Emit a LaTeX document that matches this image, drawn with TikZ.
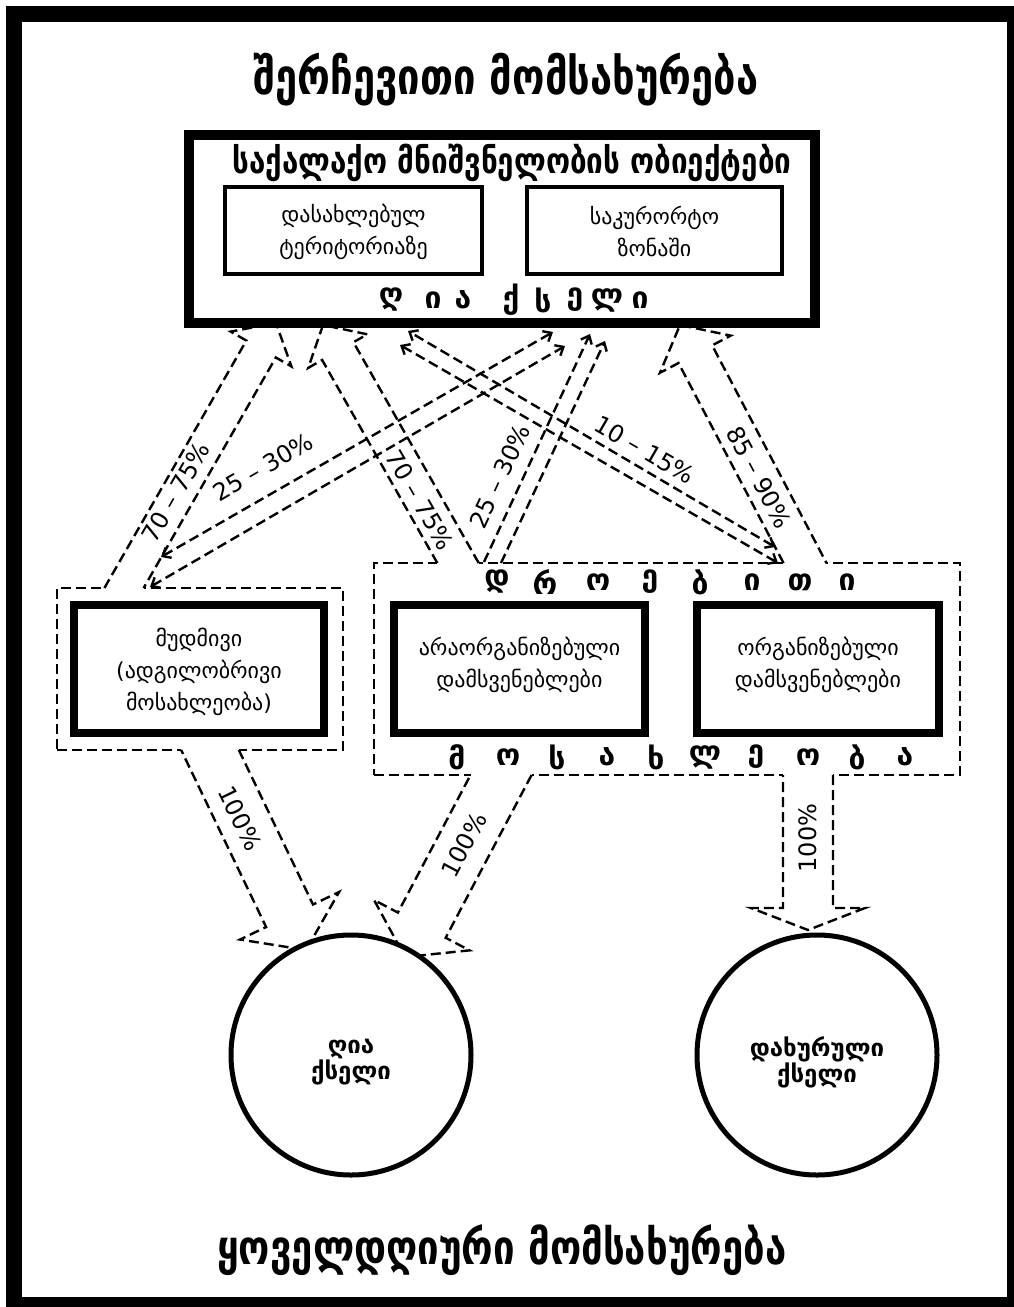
\documentclass[tikz,border=0pt]{standalone}
\usepackage{fontspec}
\setmainfont{DejaVu Sans}
\usetikzlibrary{calc,arrows.meta}
\newcommand{\wideArrow}[6]{%
 \coordinate (#1h) at ($(#3)!#6!(#2)$);
 \coordinate (#1a) at ($(#2)!#4!90:(#3)$);
 \coordinate (#1b) at ($(#2)!#4!-90:(#3)$);
 \coordinate (#1ha) at ($(#1h)!#4!90:(#3)$);
 \coordinate (#1hb) at ($(#1h)!#4!-90:(#3)$);
 \coordinate (#1hA) at ($(#1h)!#5!90:(#3)$);
 \coordinate (#1hB) at ($(#1h)!#5!-90:(#3)$);
 \coordinate (#1x) at ($(#2)+(20,0)$);
 \coordinate (#1A) at (intersection of #1a--#1ha and #2--#1x);
 \coordinate (#1B) at (intersection of #1b--#1hb and #2--#1x);
 \draw[white, line width=5pt] (#1A) -- (#1B);
 \draw[dashline] (#1A) -- (#1ha) -- (#1hA) -- (#3) -- (#1hB) -- (#1hb) -- (#1B);
}
\begin{document}
\begin{tikzpicture}[x=1pt,y=-1pt,
  dashline/.style={line width=2.4pt, dash pattern=on 10pt off 5pt},
  dashbox/.style={draw, dashline, inner sep=0pt},
  thickbox/.style={draw, line width=8pt, fill=white, inner sep=0pt},
  midbox/.style={draw, line width=4pt, fill=white, inner sep=0pt},
  bodytext/.style={font=\fontsize{22}{32}\selectfont, align=center, inner sep=0pt},
  pct/.style={font=\fontsize{24}{26}\selectfont, inner sep=0pt},
  spaced/.style={font=\bfseries\fontsize{30}{30}\selectfont, inner sep=0pt},
  circtext/.style={font=\bfseries\fontsize{24}{24}\selectfont, align=center, inner sep=0pt},
  barbs/.style={dashline, {Straight Barb[length=7pt,width=12pt]}-{Straight Barb[length=7pt,width=12pt]}},
  topbarb/.style={dashline, -{Straight Barb[length=7pt,width=12pt]}}
]
\useasboundingbox (0,0) rectangle (1014,1307);
\fill[white] (0,0) rectangle (1014,1307);
\draw[line width=16pt] (14,14) rectangle (1015,1305);

% group boxes (dashed)
\node[dashbox, minimum width=286pt, minimum height=162pt] (ldash) at (200,669) {};
\node[dashbox, minimum width=586pt, minimum height=212pt] (rdash) at (667,669) {};

% wide arrows
\coordinate (sA1) at (124,588); \coordinate (eA1) at (276,323);
\coordinate (sA2) at (458,563); \coordinate (eA2) at (323,325);
\coordinate (sA3) at (805,563); \coordinate (eA3) at (680,325);
\coordinate (sB1) at (210,750); \coordinate (eB1) at (306,950);
\coordinate (sB2) at (501,775); \coordinate (eB2) at (405,957);
\coordinate (sB3) at (808,775); \coordinate (eB3) at (808,930);
\wideArrow{A1}{sA1}{eA1}{17pt}{35pt}{30pt}
\wideArrow{A2}{sA2}{eA2}{18pt}{34pt}{30pt}
\wideArrow{A3}{sA3}{eA3}{19pt}{40pt}{33pt}
\wideArrow{B1}{sB1}{eB1}{26pt}{55pt}{38pt}
\wideArrow{B2}{sB2}{eB2}{27pt}{54pt}{36pt}
\wideArrow{B3}{sB3}{eB3}{25pt}{57pt}{22pt}

% narrow double-line arrows
\coordinate (n1a) at (161,557); \coordinate (n1b) at (553,332);
\coordinate (n1c) at (150,587); \coordinate (n1d) at (565,346);
\draw[barbs] (n1a) -- (n1b);
\draw[barbs] (n1c) -- (n1d);
\coordinate (n2a) at (484,562); \coordinate (n2b) at (590,334);
\coordinate (n2c) at (501,563); \coordinate (n2d) at (605,341);
\draw[topbarb] (n2a) -- (n2b);
\draw[topbarb] (n2c) -- (n2d);
\coordinate (n3a) at (775,547); \coordinate (n3b) at (408,331);
\coordinate (n3c) at (778,563); \coordinate (n3d) at (400,345);
\draw[barbs] (n3a) -- (n3b);
\draw[barbs] (n3c) -- (n3d);

% top box
\node[draw, line width=10pt, fill=white, inner sep=0pt, minimum width=626pt, minimum height=188pt] (topbox) at (502,229) {};
\node[midbox, minimum width=257pt, minimum height=87pt] (settled) at (353.5,230.5) {};
\node[midbox, minimum width=255pt, minimum height=87pt] (resort) at (654.5,230.5) {};
\node[inner sep=0pt] (toptitle) at (512,163) {\scalebox{1}[1.2]{\resizebox{559pt}{!}{\bfseries საქალაქო მნიშვნელობის ობიექტები}}};
\node[bodytext] (settledt) at (353.5,232) {დასახლებულ\\ტერიტორიაზე};
\node[bodytext] (resortt) at (654.5,232) {საკურორტო\\ზონაში};
\foreach \x/\c [count=\i] in {391/ღ,433/ი,463/ა,511/ქ,543/ს,575/ე,607/ლ,640/ი}
  \node[spaced] (open\i) at (\x,300) {\c};

% population boxes
\node[thickbox, minimum width=250pt, minimum height=128pt] (perm) at (199,669) {};
\node[thickbox, minimum width=251pt, minimum height=128pt] (unorg) at (519.5,669) {};
\node[thickbox, minimum width=242pt, minimum height=128pt] (org) at (818,669) {};
\node[bodytext] (permt) at (199,672) {მუდმივი\\(ადგილობრივი\\მოსახლეობა)};
\node[bodytext] (unorgt) at (519.5,665) {არაორგანიზებული\\დამსვენებლები};
\node[bodytext] (orgt) at (818,665) {ორგანიზებული\\დამსვენებლები};
\foreach \x/\c [count=\i] in {497/დ,545/რ,598/ო,650/ე,700/ბ,752/ი,800/თ,847/ი}
  \node[spaced] (temp\i) at (\x,582) {\c};
\foreach \x/\c [count=\i] in {457/მ,508/ო,557/ს,607/ა,656/ხ,705/ლ,756/ე,808/ო,857/ბ,905/ა}
  \node[spaced] (pop\i) at (\x,757) {\c};

% circles
\node[draw, circle, line width=5pt, fill=white, minimum size=240pt, inner sep=0pt] (opennet) at (351,1055) {};
\node[draw, circle, line width=5pt, fill=white, minimum size=240pt, inner sep=0pt] (closednet) at (817,1055) {};
\node[circtext] (opent) at (351,1062) {ღია\\ქსელი};
\node[circtext] (closedt) at (817,1062) {დახურული\\ქსელი};

% percentages
\node[pct, rotate=60] (p1) at (176,492) {70 – 75\%};
\node[pct, rotate=30] (p2) at (263,467) {25 – 30\%};
\node[pct, rotate=-60] (p3) at (420,500) {70 – 75\%};
\node[pct, rotate=65] (p4) at (500,476) {25 – 30\%};
\node[pct, rotate=-30] (p5) at (645,450) {10 – 15\%};
\node[pct, rotate=-62] (p6) at (759,477) {85 – 90\%};
\node[pct, rotate=-64] (p7) at (240,818) {100\%};
\node[pct, rotate=62] (p8) at (464,845) {100\%};
\node[pct, rotate=90] (p9) at (808,838) {100\%};

% titles
\node[inner sep=0pt] (title) at (506,80) {\scalebox{1}[1.25]{\resizebox{505pt}{!}{\bfseries შერჩევითი მომსახურება}}};
\node[inner sep=0pt] (bottomtitle) at (502,1250) {\scalebox{1}[1.25]{\resizebox{569pt}{!}{\bfseries ყოველდღიური მომსახურება}}};
\end{tikzpicture}
\end{document}
